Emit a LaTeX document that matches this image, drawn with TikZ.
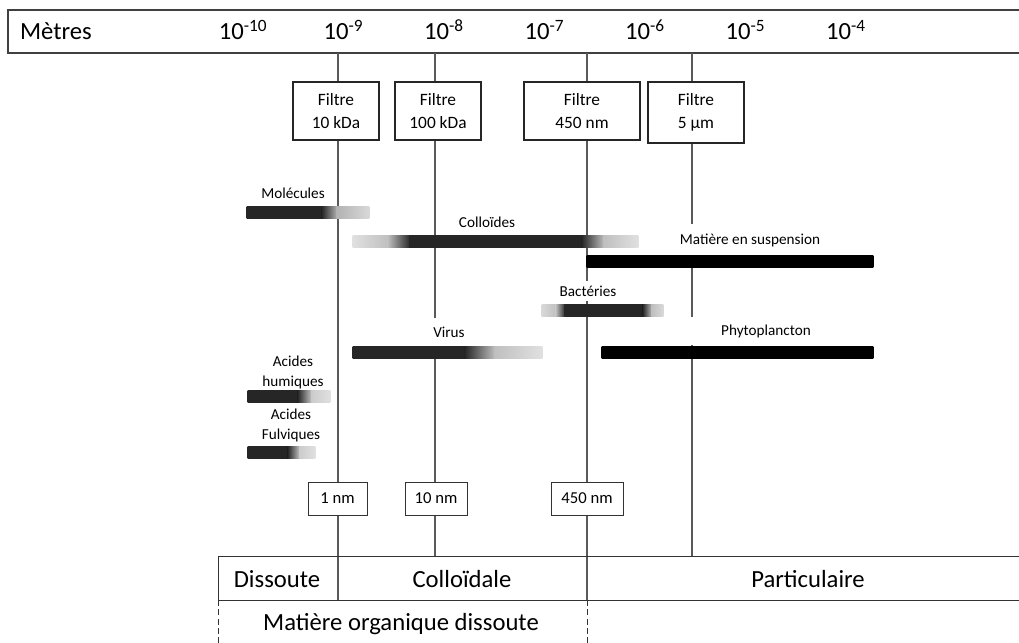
\documentclass[tikz,border=0pt]{standalone}
\usepackage{fontspec}
\setmainfont{Carlito}
\colorlet{traitgris}{black!65}

% bar made of shaded pieces x1/c1/x2/c2 (c = percent of black)
\newcommand{\barre}[2]{%
  \foreach \xa/\ca/\xb/\cb in {#2}
    \shade[left color=black!\ca, right color=black!\cb] (\xa-0.3,#1) rectangle (\xb+0.3,#1+12);}

\begin{document}
\begin{tikzpicture}[x=0.75pt, y=-0.75pt,
    filtre/.style={draw=black!85, line width=1.2pt, fill=white, minimum height=43.5pt, align=center, font=\fontsize{13}{17}\selectfont},
    taille/.style={draw=black!80, line width=0.6pt, fill=white, minimum height=24.75pt, font=\fontsize{12.5}{14}\selectfont},
    etiq/.style={align=center, font=\fontsize{11.4}{15}\selectfont},
    grand/.style={font=\fontsize{18.5}{22}\selectfont},
    axe/.style={traitgris, line width=0.8pt}]
  \useasboundingbox (0,0) rectangle (1019,642);

  % echelle
  \draw[black!75, line width=1.2pt] (1030,10) -- (8,10) -- (8,53) -- (1030,53);
  \node[grand, anchor=base] (metres) at (56,40) {Mètres};
  \foreach \e [count=\i from 0] in {10,9,8,7,6,5,4}
    \node[grand, anchor=base] (m\e) at (243+100.5*\i,40) {10\textsuperscript{-\e}};

  % reperes
  \coordinate (h9) at (338,53);  \coordinate (b9) at (338,600);
  \coordinate (h8) at (435,53);  \coordinate (b8) at (435,556);
  \coordinate (h7) at (587,53);  \coordinate (b7) at (587,600);
  \coordinate (h6) at (692,53);  \coordinate (b6) at (692,556);
  \foreach \p in {9,8,7,6}
    \draw[axe] (h\p) -- (b\p);

  % tableau du bas
  \coordinate (tg) at (218,556);
  \coordinate (bg) at (218,600);
  \coordinate (fg) at (218,645);
  \coordinate (f7) at (587,645);
  \draw[black!80, line width=0.7pt] (1030,556) -- (tg) -- (bg) -- (1030,600);
  \draw[black!80, line width=0.7pt, dash pattern=on 4.5pt off 2.5pt] (bg) -- (fg);
  \draw[black!80, line width=0.7pt, dash pattern=on 4.5pt off 2.5pt] (b7) -- (f7);
  \node[grand] (dissoute) at (277,579) {Dissoute};
  \node[grand] (colloidale) at (462,579) {Colloïdale};
  \node[grand] (particulaire) at (808,579) {Particulaire};
  \node[grand] (mod) at (401,624) {Matière organique dissoute};

  % filtres
  \node[filtre, minimum width=64.5pt] (f10k) at (336,111) {Filtre\\10 kDa};
  \node[filtre, minimum width=64.5pt] (f100k) at (438,111) {Filtre\\100 kDa};
  \node[filtre, minimum width=87pt] (f450) at (582,111) {Filtre\\450 nm};
  \node[filtre, minimum width=72pt, minimum height=45.75pt] (f5) at (696,112.5) {Filtre\\5 µm};

  % tailles de coupure
  \node[taille, minimum width=44.25pt] (n1) at (337.5,498.5) {1 nm};
  \node[taille, minimum width=46.5pt] (n10) at (436,498.5) {10 nm};
  \node[taille, minimum width=54pt] (n450) at (587,498.5) {450 nm};

  % etiquettes
  \node[etiq] (molecules) at (293,193) {Molécules};
  \node[etiq] (colloides) at (487,222) {Colloïdes};
  \node[etiq, fill=white, minimum width=150pt, minimum height=24pt] (mes) at (750,240) {Matière en suspension};
  \node[etiq, fill=white] (bacteries) at (588,291) {Bactéries};
  \node[etiq, fill=white, minimum width=75pt, minimum height=21pt] (virus) at (449,332) {Virus};
  \node[etiq, fill=white, minimum width=180pt, minimum height=21pt] (phyto) at (766,331) {Phytoplancton};
  \node[etiq] (humiques) at (293,372) {Acides\\humiques};
  \node[etiq] (fulviques) at (291,425) {Acides\\Fulviques};

  % barres
  \barre{206}{247/85/322/85, 322/85/337/30, 337/30/369/15}
  \barre{235}{353/12/388/25, 388/25/410/85, 410/85/582/85, 582/85/604/25, 604/25/638/12}
  \barre{255}{587/100/873/100}
  \barre{304}{542/15/556/25, 556/25/565/85, 565/85/643/85, 643/85/652/25, 652/25/663/15}
  \barre{346}{353/85/465/85, 465/85/495/25, 495/25/542/12}
  \barre{346}{602/100/873/100}
  \barre{390}{248/85/298/85, 298/85/312/20, 312/20/330/12}
  \barre{446}{248/85/288/85, 288/85/300/20, 300/20/315/12}
\end{tikzpicture}
\end{document}
